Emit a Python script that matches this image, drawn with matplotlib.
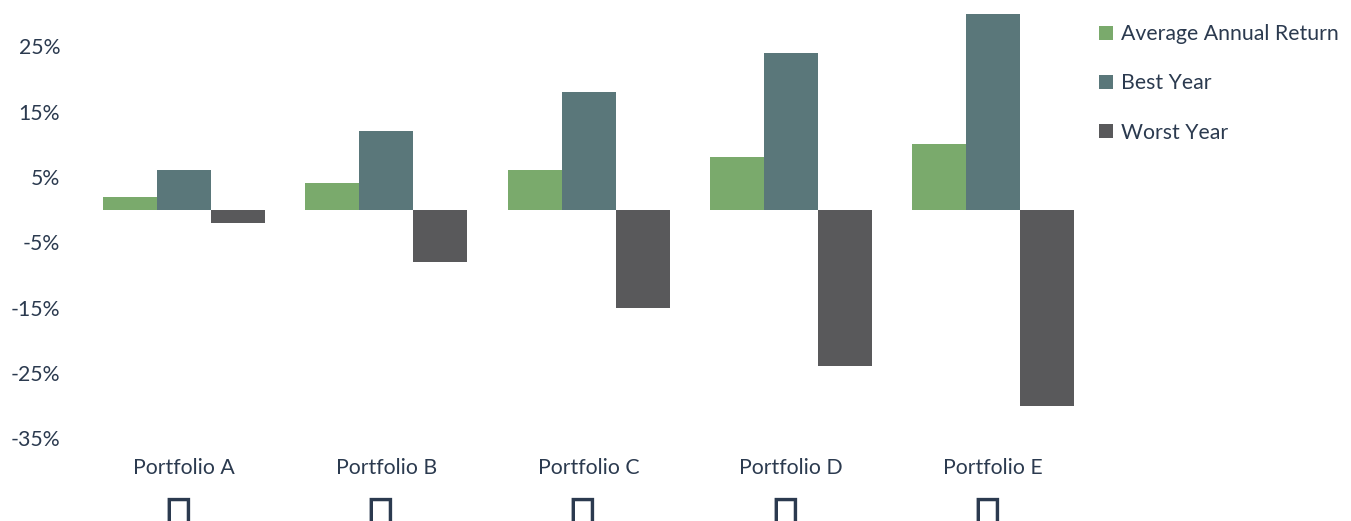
import matplotlib
matplotlib.use("Agg")
import numpy as np
from matplotlib import pyplot as plt

categories = ['Portfolio A', 'Portfolio B', 'Portfolio C', 'Portfolio D', 'Portfolio E']
avg_return = [2, 4, 6, 8, 10]
best_year = [6, 12, 18, 24, 30]
worst_year = [-2, -8, -15, -24, -30]
y_ticks = [25, 15, 5, -5, -15, -25, -35]

text_col = '#2b3a4f'
plt.rcParams['font.family'] = ['Lato', 'DejaVu Sans']

fig = plt.figure(figsize=(13.51, 5.21), dpi=100)
ax = fig.add_axes([0.0614, 0.159, 0.7486, 0.841])

x = np.arange(len(categories))
w = 0.267
ax.bar(x - w, avg_return, w, color='#7aaa6c', label='Average Annual Return')
ax.bar(x, best_year, w, color='#5a777a', label='Best Year')
ax.bar(x + w, worst_year, w, color='#59595b', label='Worst Year')

ax.set_xlim(-0.5, len(categories) - 0.5)
ax.set_ylim(-35, 32.1)
ax.set_yticks(y_ticks)
ax.set_yticklabels([f'{t}%' for t in y_ticks])
ax.set_xticks(x)
ax.set_xticklabels(categories)
ax.tick_params(length=0, labelsize=15.3, labelcolor=text_col)
ax.tick_params(axis='y', pad=16.5)
ax.tick_params(axis='x', pad=14)
for s in ax.spines.values():
    s.set_visible(False)

# the second line of each category label shows as an empty box in the original
for xi in x:
    ax.text(xi - 0.03, -0.12, '\u25af', transform=ax.get_xaxis_transform(),
            ha='center', va='top', fontsize=44, color=text_col,
            family=['DejaVu Sans'], clip_on=False)

leg = fig.legend(loc='upper left', bbox_to_anchor=(0.807, 0.97), frameon=False,
                 fontsize=15.3, labelspacing=1.38, handlelength=0.65, handleheight=0.65,
                 handletextpad=0.4, borderaxespad=0)
for t in leg.get_texts():
    t.set_color(text_col)

fig.savefig('out.png', dpi=100)
